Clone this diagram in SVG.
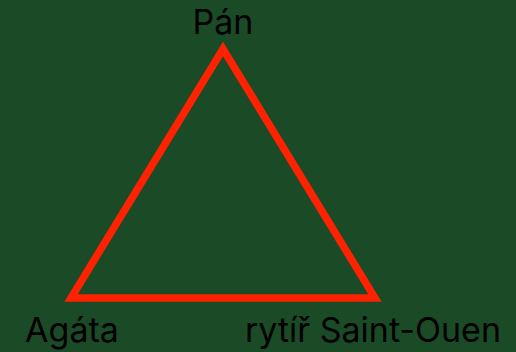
<svg xmlns="http://www.w3.org/2000/svg" width="516" height="352" viewBox="0 0 516 352">
<style>
.lbl{font-family:Inter,"Liberation Sans",Arial,sans-serif;font-size:34px;fill:#000;text-anchor:middle}
.edge{stroke:#ff2200;stroke-width:7.5;fill:none;stroke-linejoin:miter}
</style>
<rect width="516" height="352" fill="#1b4a26"/>
<g id="connectors">
<polygon class="edge" points="223,49 71,298 375,298"/>
</g>
<g id="pan"><text class="lbl" x="223" y="34">Pán</text></g>
<g id="agata"><text class="lbl" x="72" y="342">Agáta</text></g>
<g id="rytir"><text class="lbl" x="373" y="342">rytíř Saint-Ouen</text></g>
</svg>
